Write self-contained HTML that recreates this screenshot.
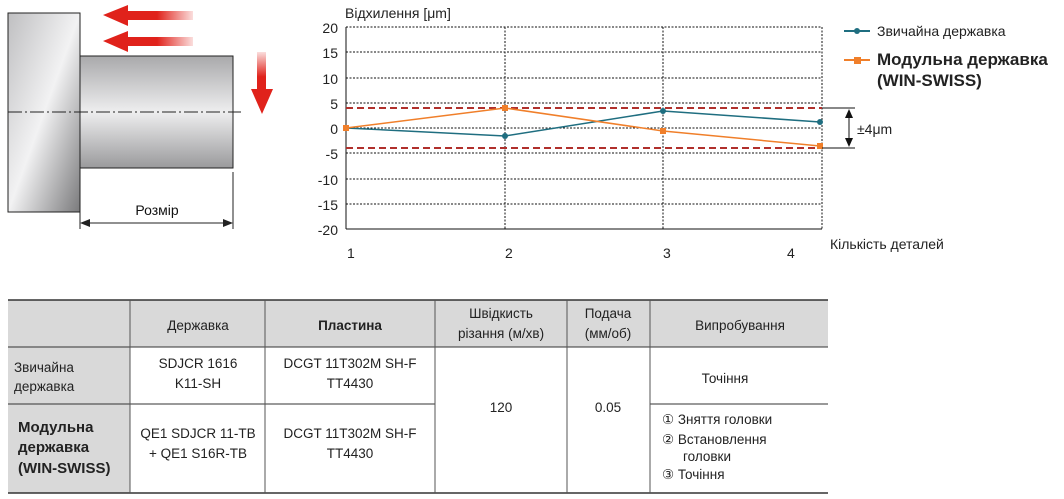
<!DOCTYPE html>
<html><head><meta charset="utf-8"><style>
body{margin:0;width:1064px;height:499px;background:#fff;overflow:hidden;font-family:"Liberation Sans","DejaVu Sans",sans-serif}
svg{position:absolute;left:0;top:0}
</style></head><body>
<svg width="1064" height="499" viewBox="0 0 1064 499" font-family="Liberation Sans, DejaVu Sans, sans-serif">
<defs>
<linearGradient id="g1" x1="0" y1="0" x2="1" y2="1"><stop offset="0" stop-color="#bfbfc1"/><stop offset="0.5" stop-color="#f2f2f3"/><stop offset="1" stop-color="#7a7a7c"/></linearGradient>
<linearGradient id="g2" x1="0" y1="0" x2="0" y2="1"><stop offset="0" stop-color="#a9a9ab"/><stop offset="0.5" stop-color="#eeeeef"/><stop offset="1" stop-color="#9a9a9c"/></linearGradient>
<linearGradient id="ra" x1="0" y1="0" x2="1" y2="0"><stop offset="0.6" stop-color="#e0221b"/><stop offset="1" stop-color="#e0221b" stop-opacity="0.15"/></linearGradient>
<linearGradient id="rv" x1="0" y1="0" x2="0" y2="1"><stop offset="0" stop-color="#e0221b" stop-opacity="0.15"/><stop offset="0.4" stop-color="#e0221b"/></linearGradient>
</defs>
<!-- drawing -->
<rect x="8" y="13" width="72" height="199" fill="url(#g1)" stroke="#222" stroke-width="1"/>
<rect x="80" y="56" width="153" height="112" fill="url(#g2)" stroke="#222" stroke-width="1"/>
<line x1="8" y1="112" x2="241" y2="112" stroke="#222" stroke-width="1" stroke-dasharray="14,3,2,3"/>
<polygon points="103,15 128,5 128,11 193,11 193,20 128,20 128,26" fill="url(#ra)"/>
<polygon points="103,41 128,31 128,37 193,37 193,46 128,46 128,52" fill="url(#ra)"/>
<polygon points="257,52 266,52 266,89 273,89 262,114 251,89 257,89" fill="url(#rv)"/>
<line x1="233" y1="172" x2="233" y2="229" stroke="#222"/>
<line x1="80" y1="212" x2="80" y2="229" stroke="#222"/>
<line x1="84" y1="223" x2="229" y2="223" stroke="#222"/>
<polygon points="80,223 90,219 90,227" fill="#222"/><polygon points="233,223 223,219 223,227" fill="#222"/>
<text x="157" y="215" font-size="14" text-anchor="middle" fill="#111">Розмір</text>
<!-- chart -->
<text x="345" y="18" font-size="14" fill="#222">Відхилення [μm]</text>
<g stroke="#111" stroke-width="1" stroke-dasharray="2,1.5">
<line x1="346" y1="27" x2="822" y2="27"/><line x1="346" y1="52" x2="822" y2="52"/><line x1="346" y1="78" x2="822" y2="78"/><line x1="346" y1="103" x2="822" y2="103"/><line x1="346" y1="128" x2="822" y2="128"/><line x1="346" y1="153" x2="822" y2="153"/><line x1="346" y1="179" x2="822" y2="179"/><line x1="346" y1="204" x2="822" y2="204"/>
<line x1="505" y1="27" x2="505" y2="229"/><line x1="663" y1="27" x2="663" y2="229"/><line x1="822" y1="27" x2="822" y2="229"/>
</g>
<line x1="346" y1="27" x2="346" y2="229" stroke="#111"/><line x1="346" y1="229" x2="822" y2="229" stroke="#111"/>
<g font-size="14" fill="#222" text-anchor="end">
<text x="338" y="33">20</text><text x="338" y="58">15</text><text x="338" y="84">10</text><text x="338" y="109">5</text><text x="338" y="134">0</text><text x="338" y="159">-5</text><text x="338" y="185">-10</text><text x="338" y="210">-15</text><text x="338" y="235">-20</text>
</g>
<g font-size="14" fill="#222"><text x="347" y="258">1</text><text x="505" y="258">2</text><text x="663" y="258">3</text><text x="787" y="258">4</text><text x="830" y="249">Кількість деталей</text></g>
<line x1="346" y1="108" x2="822" y2="108" stroke="#b0302c" stroke-width="2" stroke-dasharray="7,4"/>
<line x1="346" y1="148" x2="822" y2="148" stroke="#b0302c" stroke-width="2" stroke-dasharray="7,4"/>
<polyline points="346,128 505,136 663,111 820,122" fill="none" stroke="#1f6e80" stroke-width="1.5"/>
<g fill="#1f6e80"><circle cx="346" cy="128" r="3"/><circle cx="505" cy="136" r="3"/><circle cx="663" cy="111" r="3"/><circle cx="820" cy="122" r="3"/></g>
<polyline points="346,128 505,108 663,131 820,146" fill="none" stroke="#f07f2a" stroke-width="1.5"/>
<g fill="#f07f2a"><rect x="343" y="125" width="6" height="6"/><rect x="502" y="105" width="6" height="6"/><rect x="660" y="128" width="6" height="6"/><rect x="817" y="143" width="6" height="6"/></g>
<line x1="822" y1="108" x2="855" y2="108" stroke="#111"/><line x1="822" y1="148" x2="855" y2="148" stroke="#111"/>
<line x1="849" y1="112" x2="849" y2="144" stroke="#111"/>
<polygon points="849,109 845,118 853,118" fill="#111"/><polygon points="849,147 845,138 853,138" fill="#111"/>
<text x="857" y="134" font-size="14" fill="#222">±4μm</text>
<line x1="844" y1="31" x2="870" y2="31" stroke="#1f6e80" stroke-width="2"/><circle cx="857" cy="31" r="3" fill="#1f6e80"/>
<text x="877" y="36" font-size="14" fill="#222">Звичайна державка</text>
<line x1="844" y1="60" x2="870" y2="60" stroke="#f07f2a" stroke-width="2"/><rect x="854" y="57" width="7" height="7" fill="#f07f2a"/>
<text x="877" y="65" font-size="17" font-weight="bold" fill="#222">Модульна державка</text>
<text x="877" y="86" font-size="17" font-weight="bold" fill="#222">(WIN-SWISS)</text>
<!-- table -->
<rect x="8" y="300" width="820" height="47" fill="#d9d9d9"/>
<rect x="8" y="347" width="122" height="146" fill="#d9d9d9"/>
<line x1="8" y1="300" x2="828" y2="300" stroke="#333" stroke-width="1.5"/>
<line x1="8" y1="347" x2="828" y2="347" stroke="#333"/>
<line x1="8" y1="404" x2="435" y2="404" stroke="#333"/>
<line x1="650" y1="404" x2="828" y2="404" stroke="#333"/>
<line x1="8" y1="493" x2="828" y2="493" stroke="#333" stroke-width="1.5"/>
<g stroke="#555"><line x1="130" y1="300" x2="130" y2="493"/><line x1="265" y1="300" x2="265" y2="493"/><line x1="435" y1="300" x2="435" y2="493"/><line x1="567" y1="300" x2="567" y2="493"/><line x1="650" y1="300" x2="650" y2="493"/></g>
<g font-size="13.5" fill="#222" text-anchor="middle">
<text x="198" y="330">Державка</text>
<text x="350" y="330" font-weight="bold">Пластина</text>
<text x="501" y="318">Швідкисть</text><text x="501" y="338">різання (м/хв)</text>
<text x="608" y="318">Подача</text><text x="608" y="338">(мм/об)</text>
<text x="740" y="330">Випробування</text>
<text x="198" y="368">SDJCR 1616</text><text x="198" y="388">K11-SH</text>
<text x="350" y="368">DCGT 11T302M SH-F</text><text x="350" y="388">TT4430</text>
<text x="198" y="438">QE1 SDJCR 11-TB</text><text x="198" y="458">+ QE1 S16R-TB</text>
<text x="350" y="438">DCGT 11T302M SH-F</text><text x="350" y="458">TT4430</text>
<text x="501" y="412">120</text><text x="608" y="412">0.05</text>
<text x="725" y="383">Точіння</text>
</g>
<g font-size="13.5" fill="#222">
<text x="14" y="372">Звичайна</text><text x="14" y="391">державка</text>
<text x="18" y="432" font-size="15" font-weight="bold">Модульна</text>
<text x="18" y="452" font-size="15" font-weight="bold">державка</text>
<text x="18" y="473" font-size="15" font-weight="bold">(WIN-SWISS)</text>
<text x="662" y="424">① Зняття головки</text>
<text x="662" y="444">② Встановлення</text>
<text x="683" y="461">головки</text>
<text x="662" y="479">③ Точіння</text>
</g>
</svg>
</body></html>
